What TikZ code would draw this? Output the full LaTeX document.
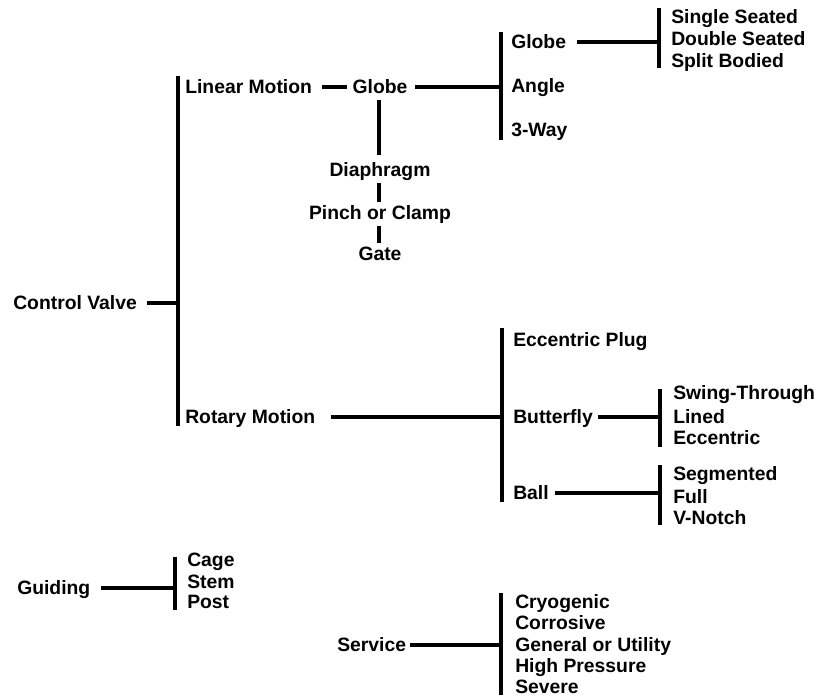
\documentclass[tikz,border=0pt]{standalone}
\usepackage{fontspec}
\setmainfont{Liberation Sans}
\begin{document}
\begin{tikzpicture}[x=0.75pt,y=-0.75pt,
  every node/.style={font=\bfseries\fontsize{14.5}{17}\selectfont, inner sep=0pt, text height=10.4pt, text depth=0pt},
  lbl/.style={anchor=west},
  ln/.style={line width=2.5pt}]
\useasboundingbox (0,0) rectangle (822,698);

% ---------- Control valve tree ----------
\node[lbl] (cv) at (13,303) {Control Valve};
\coordinate (cvj) at (178,303);
\coordinate (mbT) at (178,76);
\coordinate (mbB) at (178,426);
\draw[ln] (mbT) -- (mbB);
\draw[ln, shorten <=7.5pt] (cv.east) -- (cvj);

% Linear motion
\node[lbl] (lm) at (185,87) {Linear Motion};
\node (g1) at (380,87) {Globe};
\draw[ln, shorten <=7pt, shorten >=4pt] (lm.east) -- (g1.west);
\coordinate (j1) at (501,87);
\coordinate (j1T) at (501,32);
\coordinate (j1B) at (501,140);
\draw[ln] (j1T) -- (j1B);
\draw[ln, shorten <=5.5pt] (g1.east) -- (j1);

\node[lbl] (g2) at (511,42) {Globe};
\node[lbl] (ang) at (511,86) {Angle};
\node[lbl] (tw) at (511,130) {3-Way};
\coordinate (j2) at (659,42);
\coordinate (j2T) at (659,8);
\coordinate (j2B) at (659,68);
\draw[ln] (j2T) -- (j2B);
\draw[ln, shorten <=8pt] (g2.east) -- (j2);
\node[lbl] (ss) at (671,17) {Single Seated};
\node[lbl] (ds) at (671,39) {Double Seated};
\node[lbl] (sb) at (671,61) {Split Bodied};

\node (dia) at (380,170) {Diaphragm};
\node (pin) at (380,213) {Pinch or Clamp};
\node (gat) at (380,254) {Gate};
\draw[ln, shorten <=4.5pt, shorten >=6pt] ([xshift=-0.75pt]g1.south) -- ([xshift=-0.75pt]dia.north);
\draw[ln, shorten <=4pt, shorten >=3pt] ([xshift=-0.75pt]dia.south) -- ([xshift=-0.75pt]pin.north);
\draw[ln, shorten <=4pt, shorten >=3pt] ([xshift=-0.75pt]pin.south) -- ([xshift=-0.75pt]gat.north);

% Rotary motion
\node[lbl] (rm) at (185,417) {Rotary Motion};
\coordinate (j3) at (502,417);
\coordinate (j3T) at (502,328);
\coordinate (j3B) at (502,502);
\draw[ln] (j3T) -- (j3B);
\draw[ln, shorten <=12pt] (rm.east) -- (j3);
\node[lbl] (ep) at (513,340) {Eccentric Plug};
\node[lbl] (bf) at (513,417) {Butterfly};
\node[lbl] (bl) at (513,493) {Ball};

\coordinate (j4) at (660,417);
\coordinate (j4T) at (660,389);
\coordinate (j4B) at (660,447);
\draw[ln] (j4T) -- (j4B);
\draw[ln, shorten <=3.5pt] (bf.east) -- (j4);
\node[lbl] (st) at (673,393) {Swing-Through};
\node[lbl] (li) at (673,417) {Lined};
\node[lbl] (ec) at (673,438) {Eccentric};

\coordinate (j5) at (660,493);
\coordinate (j5T) at (660,465);
\coordinate (j5B) at (660,525);
\draw[ln] (j5T) -- (j5B);
\draw[ln, shorten <=4.5pt] (bl.east) -- (j5);
\node[lbl] (sg) at (673,474) {Segmented};
\node[lbl] (fu) at (673,497) {Full};
\node[lbl] (vn) at (673,518) {V-Notch};

% ---------- Guiding ----------
\node[lbl] (gd) at (17,588) {Guiding};
\coordinate (j6) at (175,588);
\coordinate (j6T) at (175,557);
\coordinate (j6B) at (175,610);
\draw[ln] (j6T) -- (j6B);
\draw[ln, shorten <=8pt] (gd.east) -- (j6);
\node[lbl] (cg) at (187,560) {Cage};
\node[lbl] (sm) at (187,582) {Stem};
\node[lbl] (po) at (187,602) {Post};

% ---------- Service ----------
\node[lbl] (sv) at (337,645) {Service};
\coordinate (j7) at (501,645);
\coordinate (j7T) at (501,593);
\coordinate (j7B) at (501,695);
\draw[ln] (j7T) -- (j7B);
\draw[ln, shorten <=3pt] (sv.east) -- (j7);
\node[lbl] (cr) at (515,602) {Cryogenic};
\node[lbl] (co) at (515,623) {Corrosive};
\node[lbl] (gu) at (515,645) {General or Utility};
\node[lbl] (hp) at (515,666) {High Pressure};
\node[lbl] (se) at (515,687) {Severe};
\end{tikzpicture}
\end{document}
